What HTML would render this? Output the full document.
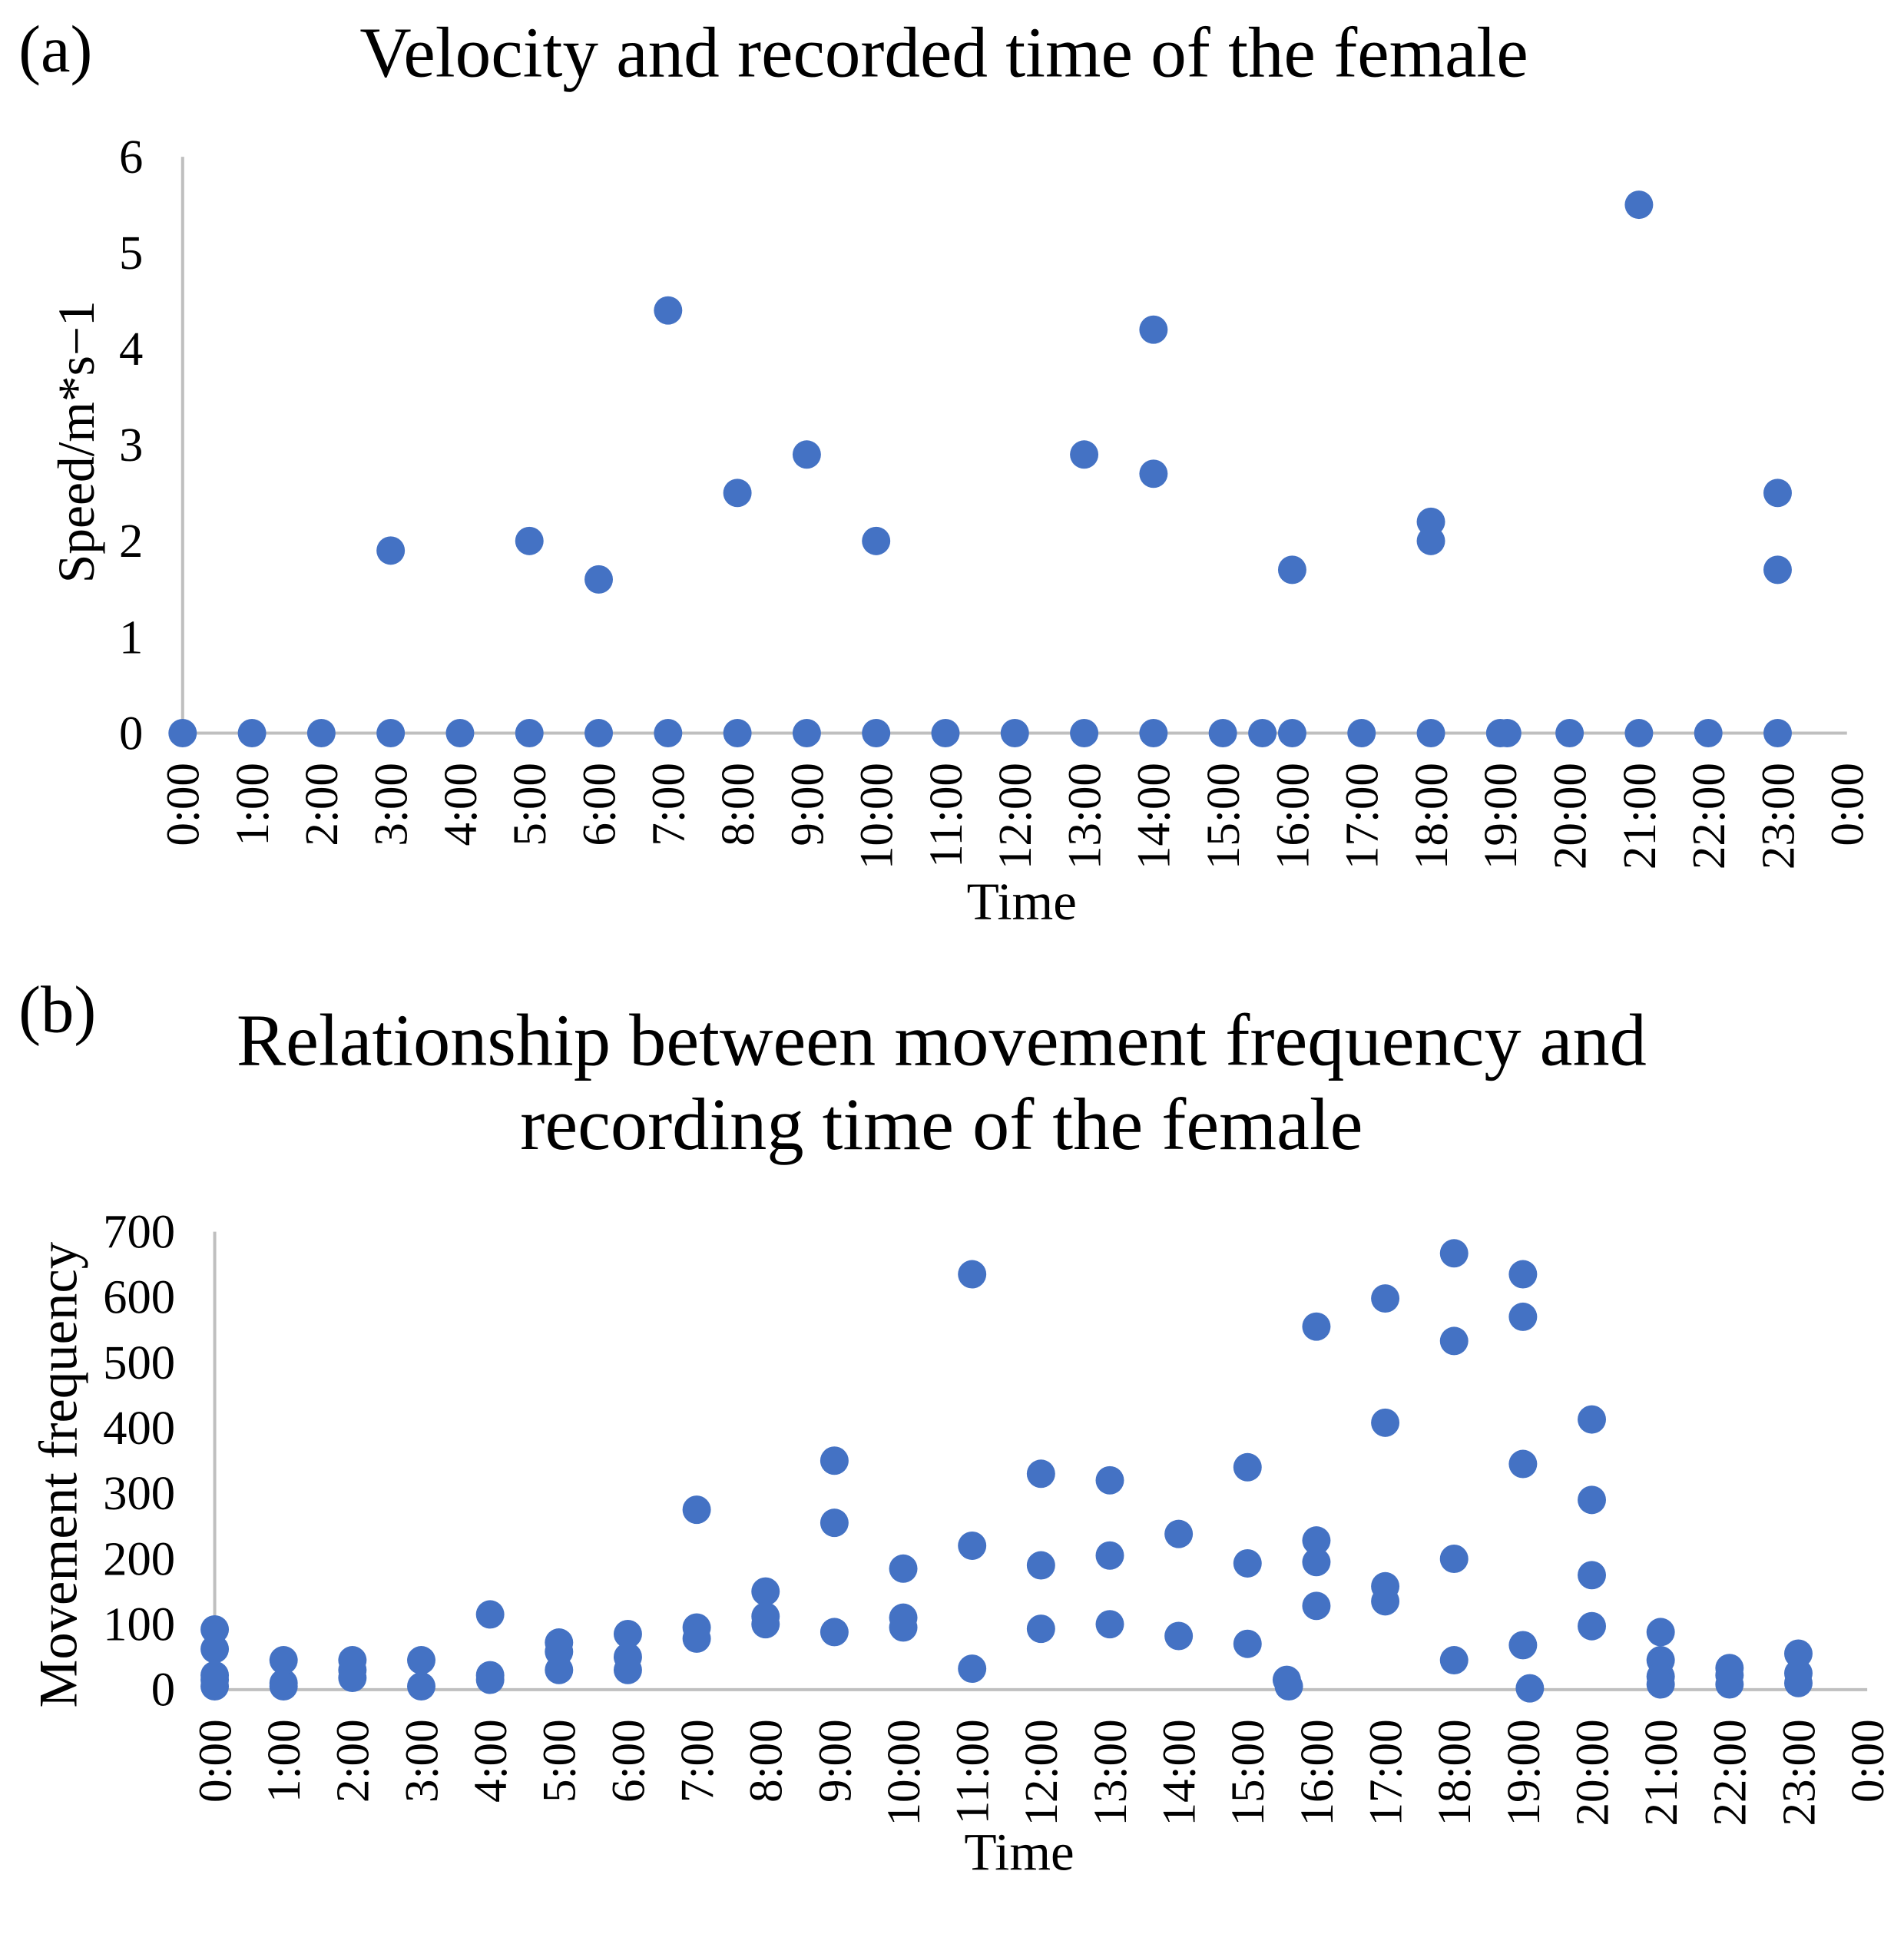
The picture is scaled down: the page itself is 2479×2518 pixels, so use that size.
<!DOCTYPE html>
<html><head><meta charset="utf-8"><style>
html,body{margin:0;padding:0;background:#fff}
svg{display:block}
text{font-family:"Liberation Serif",serif;fill:#000}
</style></head><body>
<svg id="s" width="2479" height="2518" viewBox="0 0 1543 1567" preserveAspectRatio="none">
<text x="15" y="58" font-size="54">(a)</text>
<text x="765" y="62" font-size="58" text-anchor="middle">Velocity and recorded time of the female</text>
<text x="15" y="836" font-size="54">(b)</text>
<text x="763" y="863" font-size="60" text-anchor="middle">Relationship between movement frequency and</text>
<text x="763" y="931" font-size="60" text-anchor="middle">recording time of the female</text>
<g id="ga"></g>
<g id="gb"></g>
</svg>
<script>
const hourLabels=["0:00","1:00","2:00","3:00","4:00","5:00","6:00","7:00","8:00","9:00","10:00","11:00","12:00","13:00","14:00","15:00","16:00","17:00","18:00","19:00","20:00","21:00","22:00","23:00","0:00"];
const speedTicks=[0,1,2,3,4,5,6];
const speedHours=[0,1,2,3,4,5,6,7,8,9,10,11,12,13,14,15,15.57,16,17,18,19,19.1,20,21,22,23,3,5,6,7,8,9,10,13,14,14,16,18,18,21,23,23];
const speedValues=[0,0,0,0,0,0,0,0,0,0,0,0,0,0,0,0,0,0,0,0,0,0,0,0,0,0,1.9,2.0,1.6,4.4,2.5,2.9,2.0,2.9,4.2,2.7,1.7,2.2,2.0,5.5,2.5,1.7];
const freqTicks=[0,100,200,300,400,500,600,700];
const freqHours=[0,0,0,0,0,1,1,1,2,2,2,3,3,4,4,4,5,5,5,6,6,6,7,7,7,8,8,8,9,9,9,10,10,10,11,11,11,12,12,12,13,13,13,14,14,15,15,15,15.57,15.6,16,16,16,16,17,17,17,17,18,18,18,18,19,19,19,19,19.1,20,20,20,20,21,21,21,21,22,22,22,23,23,23];
const freqValues=[92,62,22,15,5,45,10,5,45,30,18,45,5,115,22,15,72,58,30,85,50,30,275,95,78,150,112,100,350,255,88,185,110,95,635,220,32,330,190,93,320,205,100,238,82,340,193,70,15,5,555,228,195,128,598,408,158,135,667,533,200,45,635,570,345,68,2,413,290,175,97,88,45,20,8,33,22,8,55,25,10];
const NS="http://www.w3.org/2000/svg";
function mk(p,t,a){const e=document.createElementNS(NS,t);for(const k in a)e.setAttribute(k,a[k]);p.appendChild(e);return e;}
function chart(g,o){
  const xs=h=>o.x0+h*o.dx, ys=v=>o.y0-(v/o.vmax)*(o.y0-o.ytop);
  let l=mk(g,'line',{x1:o.x0,y1:o.ytop,x2:o.x0,y2:o.y0,stroke:'#bfbfbf','stroke-width':2.5});
  
  
  l=mk(g,'line',{x1:o.x0,y1:o.y0,x2:xs(24),y2:o.y0,stroke:'#bfbfbf','stroke-width':2.5});
  
  
  o.ticks.forEach(v=>{const t=mk(g,'text',{x:o.ylx,y:ys(v)+13,'font-size':39,'text-anchor':'end'});t.textContent=v;
    
    });
  hourLabels.forEach((s,i)=>{const x=xs(i);const t=mk(g,'text',{x:0,y:0,'font-size':38,'text-anchor':'end',transform:`translate(${x+13},${o.y0+24}) rotate(-90)`});t.textContent=s;
    
    });
  o.hours.forEach((h,i)=>{const c=mk(g,'circle',{cx:xs(h),cy:ys(o.vals[i]),r:11.5,fill:'#4472C4'});
    
    });
  let t=mk(g,'text',{x:o.tx,y:o.ty,'font-size':43,'text-anchor':'middle'});t.textContent='Time';
  
  
  t=mk(g,'text',{x:0,y:0,'font-size':o.yts,'text-anchor':'middle',transform:`translate(${o.yttx},${o.ytty}) rotate(-90)`});t.textContent=o.ytitle;
  
  
}
chart(document.getElementById('ga'),{x0:148,dx:56.2,y0:594,ytop:127,vmax:6,ticks:speedTicks,ylx:116,hours:speedHours,vals:speedValues,tx:828,ty:745,yttx:76,ytty:358,yts:42,ytitle:'Speed/m*s\u22121'});
chart(document.getElementById('gb'),{x0:174,dx:55.8,y0:1369,ytop:998,vmax:700,ticks:freqTicks,ylx:142,hours:freqHours,vals:freqValues,tx:826,ty:1515,yttx:62,ytty:1195,yts:44,ytitle:'Movement frequency'});
</script>
</body></html>
